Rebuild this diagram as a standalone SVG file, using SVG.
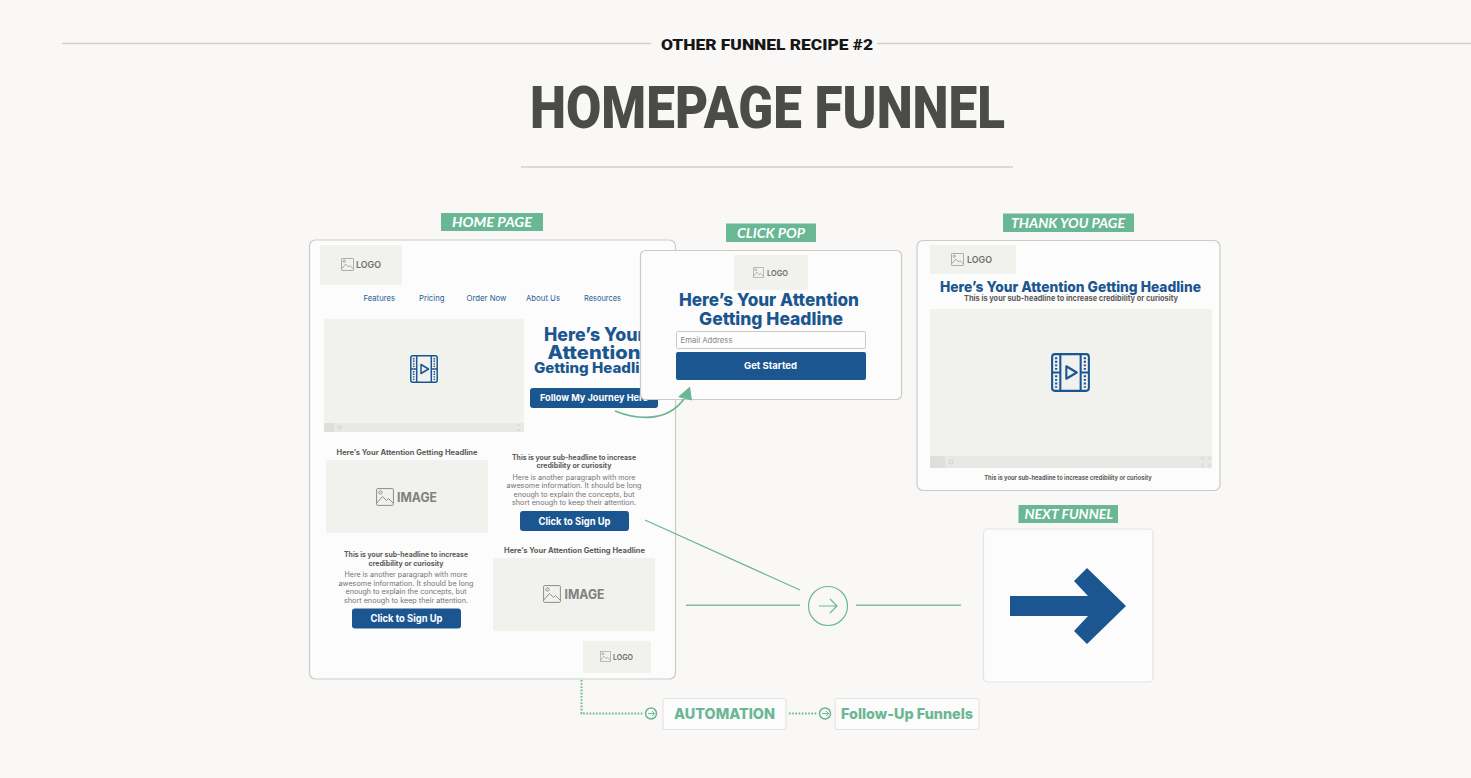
<svg xmlns="http://www.w3.org/2000/svg" width="1471" height="778" viewBox="0 0 1471 778">
<style>
text{font-family:"Inter","Liberation Sans",sans-serif}
.card{fill:#fcfcfc;stroke:#cbcbc7;stroke-width:1.2}
.lite{fill:#fcfcfc;stroke:#e4e4e1;stroke-width:1.2}
.gbox{fill:#f1f1ee}
.bar{fill:#e8e9e5}
.bar2{fill:#dedfdb}
.tag{fill:#6ab795}
.tagt{font-family:"Lato","Liberation Sans",sans-serif;font-style:italic;font-weight:700;font-size:14px;fill:#fff}
.btn{fill:#1b5690}
.btnt{font-weight:700;fill:#fff;text-anchor:middle}
.head{font-weight:800;fill:#1b5690}
.mid{text-anchor:middle}
.nav{font-size:8px;fill:#2a6096}
.sub{font-size:7px;font-weight:700;fill:#5b5b59;text-anchor:middle}
.para{font-size:7px;fill:#747472;text-anchor:middle}
.logo{font-weight:600;fill:#6f6f6b}
.img{font-weight:700;font-size:12.5px;fill:#80807c}
.ic{fill:none;stroke:#8c8c88;stroke-width:1}
.vid{fill:none;stroke:#1b5690;stroke-width:1.5;stroke-linejoin:round}
.rule{stroke:#cfcfcb;stroke-width:1.5;fill:none}
.con{stroke:#6ab795;stroke-width:1.2;fill:none}
.hline{stroke:#7cc0a2;stroke-width:1.5;fill:none}
.dot{stroke:#6ab795;stroke-width:2;stroke-dasharray:1.6 1.6;fill:none}
.go{font-weight:800;font-size:14.5px;fill:#6ab795;text-anchor:middle}
.ctl{fill:none;stroke:#d3d4d0;stroke-width:1}
</style>
<defs>
<symbol id="pic" viewBox="0 0 18 18">
<rect class="ic" x="0.6" y="0.6" width="16.8" height="16.8" rx="1"/>
<circle class="ic" cx="4.5" cy="4.5" r="1.6"/>
<path class="ic" d="M0.8 15 6.5 8.5 10.5 12.5 12.5 10.5 17 15"/>
</symbol>
<symbol id="film" viewBox="0 0 28 28">
<rect class="vid" x="0.8" y="0.8" width="26.4" height="26.4" rx="2"/>
<path class="vid" d="M6.7 0.8V27.2M21.3 0.8V27.2M0.8 14H6.7M21.3 14H27.2M11 9.5 18.5 14 11 18.5Z"/>
<path d="M3.7 3V12M3.7 16V25M24.3 3V12M24.3 16V25" stroke="#1b5690" stroke-width="1.6" stroke-dasharray="1.4 1.2" fill="none"/>
</symbol>
</defs>
<rect width="1471" height="778" fill="#f9f8f6"/>
<g id="header">
<path class="rule" d="M62 43.500H651M877 43.500H1471M521 167H1013"/>
<text x="767" y="50" font-size="14" font-weight="900" fill="#161616" text-anchor="middle" textLength="212" lengthAdjust="spacingAndGlyphs" style="font-family:Roboto,sans-serif">OTHER FUNNEL RECIPE #2</text>
<text x="767.500" y="128" font-size="59" font-weight="900" fill="#4b4b49" text-anchor="middle" textLength="475" lengthAdjust="spacingAndGlyphs" style="font-family:Roboto,sans-serif">HOMEPAGE FUNNEL</text>
</g>
<g id="home-page">
<rect class="tag" x="441" y="213" width="102" height="18"/>
<text class="tagt" x="452" y="227" textLength="80" lengthAdjust="spacingAndGlyphs">HOME PAGE</text>
<rect class="card" x="309.500" y="240" width="366" height="439" rx="6"/>
<rect class="gbox" x="320" y="245" width="82" height="40"/>
<use href="#pic" x="341" y="258" width="13" height="13"/>
<text class="logo" x="356" y="268" font-size="9.500" textLength="25" lengthAdjust="spacingAndGlyphs">LOGO</text>
<text class="nav" x="363.500" y="300.500" textLength="31.500" lengthAdjust="spacingAndGlyphs">Features</text>
<text class="nav" x="419" y="300.500" textLength="25.500" lengthAdjust="spacingAndGlyphs">Pricing</text>
<text class="nav" x="466.500" y="300.500" textLength="40" lengthAdjust="spacingAndGlyphs">Order Now</text>
<text class="nav" x="526" y="300.500" textLength="34" lengthAdjust="spacingAndGlyphs">About Us</text>
<text class="nav" x="584" y="300.500" textLength="37" lengthAdjust="spacingAndGlyphs">Resources</text>
<rect class="gbox" x="324" y="319" width="200" height="113"/>
<rect class="bar" x="324" y="423" width="200" height="9"/>
<rect class="bar2" x="324" y="423" width="10" height="9"/>
<circle class="ctl" cx="339.500" cy="427.500" r="1.500"/>
<path class="ctl" d="M517 425H520M517 430H520"/>
<use href="#film" x="410" y="355" width="28" height="28"/>
<text class="head" x="544" y="341" font-size="18.500" textLength="101" lengthAdjust="spacingAndGlyphs">Here’s Your</text>
<text class="head" x="547.500" y="359" font-size="18.500" textLength="93" lengthAdjust="spacingAndGlyphs">Attention</text>
<text class="head" x="534" y="373" font-size="14.500" textLength="124" lengthAdjust="spacingAndGlyphs">Getting Headline</text>
<rect class="btn" x="530" y="388" width="128" height="20" rx="3"/>
<text class="btnt" x="594" y="401" font-size="9.500" textLength="108" lengthAdjust="spacingAndGlyphs">Follow My Journey Here</text>
<text class="sub" x="407" y="455" textLength="141" lengthAdjust="spacingAndGlyphs">Here’s Your Attention Getting Headline</text>
<rect class="gbox" x="326" y="460" width="162" height="73"/>
<use href="#pic" x="376" y="488" width="18" height="18"/>
<text class="img" x="397" y="501.500" textLength="40" lengthAdjust="spacingAndGlyphs">IMAGE</text>
<text class="sub" x="574" y="459.500" textLength="124" lengthAdjust="spacingAndGlyphs">This is your sub-headline to increase</text>
<text class="sub" x="574" y="468" textLength="75" lengthAdjust="spacingAndGlyphs">credibility or curiosity</text>
<text class="para" x="574" y="479.500" textLength="123" lengthAdjust="spacingAndGlyphs">Here is another paragraph with more</text>
<text class="para" x="574" y="488" textLength="135" lengthAdjust="spacingAndGlyphs">awesome information.  It should be long</text>
<text class="para" x="574" y="496.500" textLength="121" lengthAdjust="spacingAndGlyphs">enough to explain the concepts, but</text>
<text class="para" x="574" y="505" textLength="124" lengthAdjust="spacingAndGlyphs">short enough to keep their attention.</text>
<rect class="btn" x="520" y="511" width="109" height="20" rx="3"/>
<text class="btnt" x="574.500" y="524.500" font-size="10" textLength="72" lengthAdjust="spacingAndGlyphs">Click to Sign Up</text>
<text class="sub" x="406" y="557" textLength="124" lengthAdjust="spacingAndGlyphs">This is your sub-headline to increase</text>
<text class="sub" x="406" y="565.500" textLength="75" lengthAdjust="spacingAndGlyphs">credibility or curiosity</text>
<text class="para" x="406" y="577" textLength="123" lengthAdjust="spacingAndGlyphs">Here is another paragraph with more</text>
<text class="para" x="406" y="585.500" textLength="135" lengthAdjust="spacingAndGlyphs">awesome information.  It should be long</text>
<text class="para" x="406" y="594" textLength="121" lengthAdjust="spacingAndGlyphs">enough to explain the concepts, but</text>
<text class="para" x="406" y="602.500" textLength="124" lengthAdjust="spacingAndGlyphs">short enough to keep their attention.</text>
<rect class="btn" x="352" y="608.500" width="109" height="20" rx="3"/>
<text class="btnt" x="406.500" y="622" font-size="10" textLength="72" lengthAdjust="spacingAndGlyphs">Click to Sign Up</text>
<text class="sub" x="574.500" y="552.500" textLength="141" lengthAdjust="spacingAndGlyphs">Here’s Your Attention Getting Headline</text>
<rect class="gbox" x="493" y="558" width="162" height="73"/>
<use href="#pic" x="543" y="585" width="18" height="18"/>
<text class="img" x="564.500" y="599" textLength="40" lengthAdjust="spacingAndGlyphs">IMAGE</text>
<rect class="gbox" x="583" y="641" width="68" height="32"/>
<use href="#pic" x="600" y="651" width="11" height="11"/>
<text class="logo" x="613" y="659.500" font-size="7.500" textLength="20" lengthAdjust="spacingAndGlyphs">LOGO</text>
</g>
<g id="click-pop">
<rect class="tag" x="726" y="223.500" width="90" height="18.500"/>
<text class="tagt" x="737" y="237.500" textLength="68" lengthAdjust="spacingAndGlyphs">CLICK POP</text>
<rect class="card" x="640.500" y="250.500" width="261" height="149" rx="5"/>
<rect class="gbox" x="734" y="255" width="74" height="35"/>
<use href="#pic" x="753" y="267" width="11" height="11"/>
<text class="logo" x="767" y="275.500" font-size="7.500" textLength="21" lengthAdjust="spacingAndGlyphs">LOGO</text>
<text class="head mid" x="769" y="306" font-size="17.500" textLength="180" lengthAdjust="spacingAndGlyphs">Here’s Your Attention</text>
<text class="head mid" x="771" y="325" font-size="17.500" textLength="144" lengthAdjust="spacingAndGlyphs">Getting Headline</text>
<rect x="676.500" y="331.500" width="189" height="17" rx="2" fill="#fdfdfd" stroke="#c8c8c4"/>
<text x="680.500" y="342.500" font-size="8" fill="#8a8a88" textLength="52" lengthAdjust="spacingAndGlyphs">Email Address</text>
<rect class="btn" x="676" y="352" width="190" height="28" rx="2"/>
<text class="btnt" x="770.500" y="369" font-size="9.500" textLength="53" lengthAdjust="spacingAndGlyphs">Get Started</text>
</g>
<g id="thank-you-page">
<rect class="tag" x="1003" y="213.500" width="131" height="18.500"/>
<text class="tagt" x="1011" y="227.500" textLength="114" lengthAdjust="spacingAndGlyphs">THANK YOU PAGE</text>
<rect class="card" x="917" y="240.500" width="303" height="250" rx="6"/>
<rect class="gbox" x="930" y="245" width="86" height="29"/>
<use href="#pic" x="951" y="253" width="13" height="13"/>
<text class="logo" x="967" y="263" font-size="9.500" textLength="25" lengthAdjust="spacingAndGlyphs">LOGO</text>
<text class="head mid" x="1070.500" y="292" font-size="14.500" textLength="261" lengthAdjust="spacingAndGlyphs">Here’s Your Attention Getting Headline</text>
<text class="sub" x="1071" y="301" style="font-size:8px" textLength="214" lengthAdjust="spacingAndGlyphs">This is your sub-headline to increase credibility or curiosity</text>
<rect class="gbox" x="930" y="309" width="282" height="159"/>
<rect class="bar" x="930" y="456" width="282" height="12"/>
<rect class="bar2" x="930" y="456" width="15" height="12"/>
<circle class="ctl" cx="951" cy="462" r="2"/>
<path class="ctl" d="M1202 460V458H1204M1208 458H1210V460M1202 464V466H1204M1208 466H1210V464"/>
<use href="#film" x="1051" y="353" width="39" height="39"/>
<text class="sub" x="1068" y="480" style="font-size:6px" textLength="167.500" lengthAdjust="spacingAndGlyphs">This is your sub-headline to increase credibility or curiosity</text>
</g>
<g id="next-funnel">
<rect class="tag" x="1018.500" y="505" width="99.500" height="18"/>
<text class="tagt" x="1024.500" y="519" textLength="88.500" lengthAdjust="spacingAndGlyphs">NEXT FUNNEL</text>
<rect class="lite" x="983.500" y="529" width="169.500" height="153" rx="4"/>
<path fill="#1b5690" d="M1010 596H1088L1074 581 1087 568 1126 606 1087 644 1074 631 1088 616H1010Z"/>
</g>
<g id="automation">
<rect class="lite" x="663" y="698.500" width="123" height="31" rx="2"/>
<text class="go" x="724.500" y="719" textLength="101" lengthAdjust="spacingAndGlyphs">AUTOMATION</text>
</g>
<g id="follow-up-funnels">
<rect class="lite" x="835" y="698.500" width="144" height="31" rx="2"/>
<text class="go" x="907" y="718.500" textLength="132" lengthAdjust="spacingAndGlyphs">Follow-Up Funnels</text>
</g>
<g id="connectors">
<path d="M615 411C640 421 668 421 684 399" fill="none" stroke="#6ab795" stroke-width="1.800"/>
<path d="M690 386.500 678 397 692 400.500Z" fill="#6ab795"/>
<path class="con" d="M645 520 800 590"/>
<path class="hline" d="M686 605.200H800M856 605.200H961"/>
<circle class="con" cx="828" cy="606" r="19.500"/>
<path class="con" d="M819 606H837M830 599 837 606 830 613"/>
<path class="dot" d="M581.500 680V713.500H644M789 713.500H818"/>
<circle class="con" style="stroke-width:1.500" cx="651" cy="713.500" r="5.500"/>
<path class="con" style="stroke-width:1" d="M648 713.500H654.500M652 711 654.500 713.500 652 716"/>
<circle class="con" style="stroke-width:1.500" cx="825" cy="713.500" r="5.500"/>
<path class="con" style="stroke-width:1" d="M822 713.500H828.500M826 711 828.500 713.500 826 716"/>
</g>
</svg>
